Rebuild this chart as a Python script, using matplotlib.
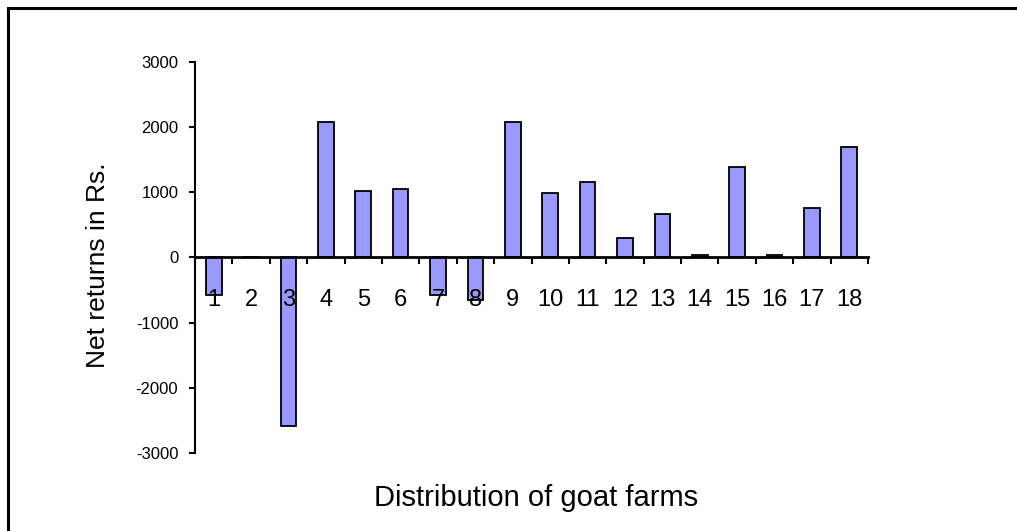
import numpy as np
import matplotlib
matplotlib.use('Agg')
import matplotlib.pyplot as plt
from matplotlib.lines import Line2D

plt.rcParams['font.family'] = ['Liberation Sans', 'DejaVu Sans']

# dati
farms = [str(i) for i in range(1, 19)]
net_returns = [-575, 0, -2590, 2070, 1010, 1050, -575, -660, 2070,
               980, 1160, 300, 660, 30, 1380, 30, 760, 1690]
y_ticks = [-3000, -2000, -1000, 0, 1000, 2000, 3000]

fig = plt.figure(figsize=(10.17, 5.31), dpi=100)
ax = fig.add_axes([195 / 1017, 1 - 453 / 531, 673 / 1017, 391.3 / 531])

x = np.arange(1, len(farms) + 1)
ax.bar(x, net_returns, width=0.42, color='#9999FF',
       edgecolor='black', linewidth=1.3, zorder=2)
ax.set_axisbelow(False)  # etichette sopra le barre, come nell'originale

ax.set_xlim(0.5, len(farms) + 0.5)
ax.set_ylim(-3000, 3000)

# assi
ax.spines['bottom'].set_position(('data', 0))
ax.spines['top'].set_visible(False)
ax.spines['right'].set_visible(False)
ax.spines['bottom'].set_linewidth(2)
ax.spines['left'].set_linewidth(1.5)
ax.spines['bottom'].set_zorder(3)

ax.set_xticks(x)
ax.set_xticklabels(farms, fontsize=17)
ax.set_xticks(np.arange(0.5, len(farms) + 1), minor=True)
ax.tick_params(axis='x', which='major', length=0, pad=23)
ax.tick_params(axis='x', which='minor', length=5, width=1.5, direction='out')

ax.set_yticks(y_ticks)
ax.set_yticklabels([str(v) for v in y_ticks], fontsize=12)
ax.tick_params(axis='y', length=4, width=1.5, direction='out', pad=8)

ax.set_ylabel('Net returns in Rs.', fontsize=19)
ax.yaxis.set_label_coords(-0.127, 0.48)
ax.set_xlabel('Distribution of goat farms', fontsize=21)
ax.xaxis.set_label_coords(0.507, -0.08)

# cornice esterna
fig.add_artist(Line2D([8 / 1017, 8 / 1017], [0, 1 - 8 / 531],
                      transform=fig.transFigure, color='black', linewidth=2.2))
fig.add_artist(Line2D([8 / 1017, 1], [1 - 8 / 531, 1 - 8 / 531],
                      transform=fig.transFigure, color='black', linewidth=2.2))

plt.savefig('out.png', dpi=100)
